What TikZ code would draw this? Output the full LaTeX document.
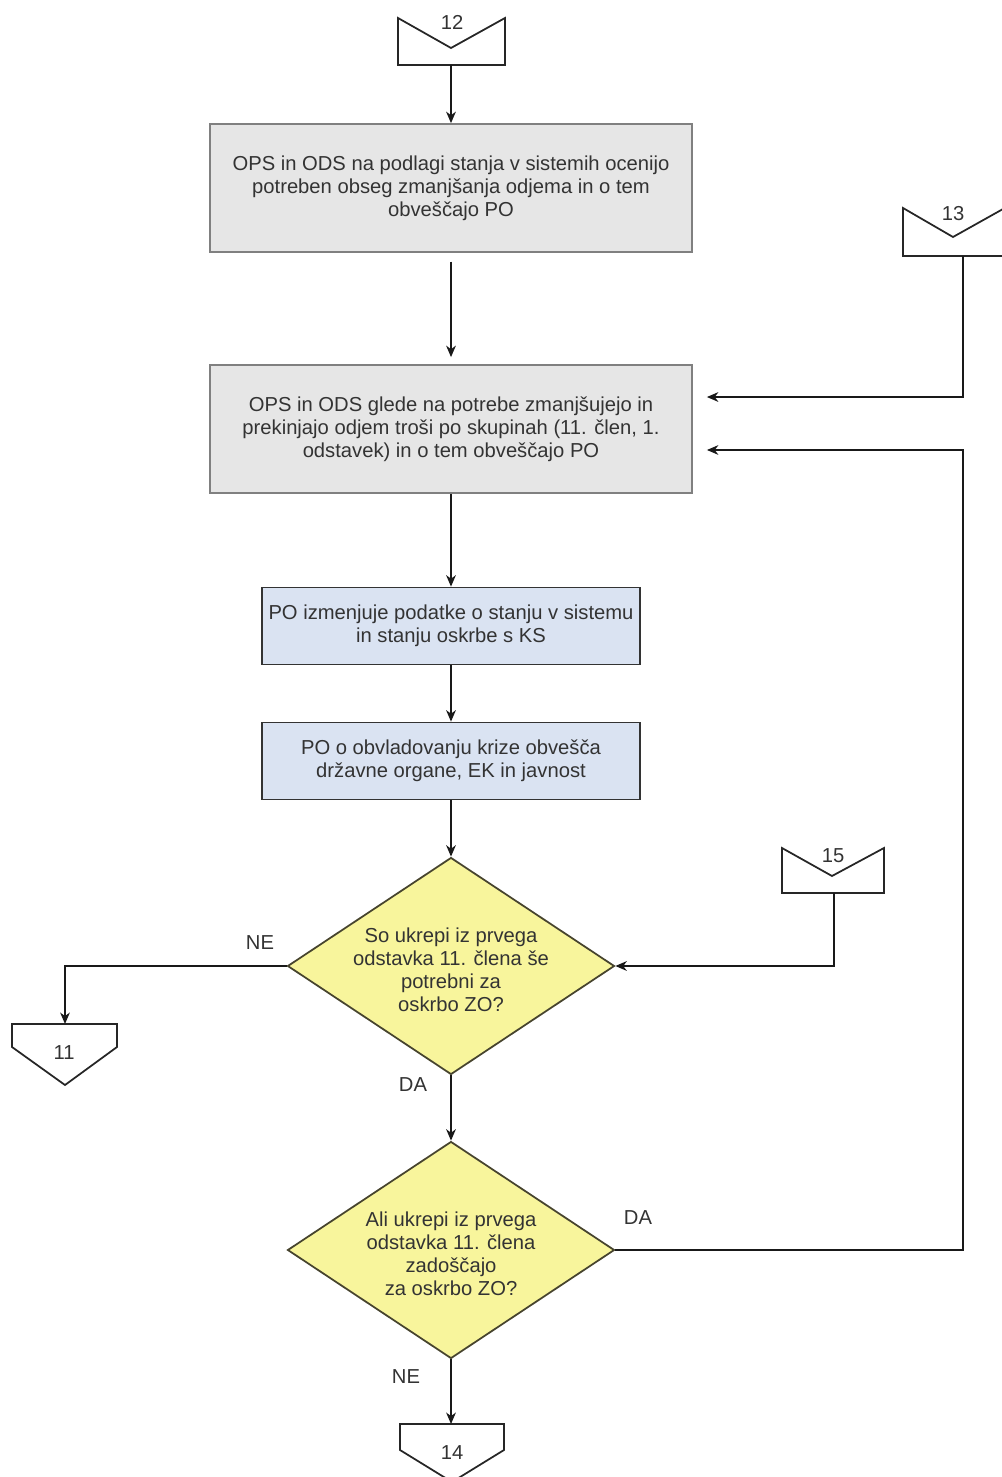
\documentclass[tikz,border=0pt]{standalone}
\usepackage{fontspec}
\setmainfont{Liberation Sans}
\usepackage{xcolor}
\usepackage{tikz}
\usetikzlibrary{arrows, arrows.meta, shapes.geometric, calc}

\definecolor{boxgray}{HTML}{E6E6E6}
\definecolor{boxblue}{HTML}{DAE3F2}
\definecolor{decyellow}{HTML}{F8F59C}

\tikzset{
  txt/.style={font=\fontsize{11.5}{13}\selectfont, text=black!80, align=center},
  graybox/.style={rectangle, line width=1pt, fill=boxgray, draw=gray, minimum width=9.64cm, minimum height=2.56cm, txt},
  bluebox/.style={rectangle, line width=1pt, fill=boxblue, draw=black!80, minimum width=7.56cm, minimum height=1.54cm, txt},
  decision/.style={diamond, line width=1pt, fill=decyellow, draw=black!65!olive, inner sep=0pt, minimum width=6.54cm, minimum height=4.34cm},
  conn/.style={line width=1pt, draw=black!85},
  arr/.style={line width=1pt, draw=black!90, -{Stealth[length=6.5pt, width=5.5pt, inset=2pt]}},
  lbl/.style={txt}
}

\begin{document}
\begin{tikzpicture}[x=0.02cm, y=-0.02cm]
  \useasboundingbox (0,0) rectangle (1001,1477);

  % off-page connectors
  \draw[conn] (398,18) -- (451,48) -- (505,18) -- (505,65) -- (398,65) -- cycle;
  \node[lbl] (n12) at (452,22) {12};
  \coordinate (c12) at (451,65);

  \draw[conn] (1003,209) -- (953,237) -- (903,208) -- (903,256) -- (1003,256);
  \node[lbl] (n13) at (953,214) {13};
  \coordinate (c13) at (963,256);

  \draw[conn] (782,848) -- (832,876) -- (884,848) -- (884,893) -- (782,893) -- cycle;
  \node[lbl] (n15) at (833,856) {15};
  \coordinate (c15) at (834,893);

  \draw[conn] (12,1024) -- (117,1024) -- (117,1047) -- (65,1085) -- (12,1047) -- cycle;
  \node[lbl] (n11) at (64,1053) {11};
  \coordinate (c11) at (65,1024);

  \draw[conn] (400,1424) -- (504,1424) -- (504,1450) -- (452,1482) -- (400,1450) -- cycle;
  \node[lbl] (n14) at (452,1453) {14};
  \coordinate (c14) at (451,1424);

  % process boxes
  \node[graybox] (box1) at (451,188) {OPS in ODS na podlagi stanja v sistemih ocenijo\\potreben obseg zmanjšanja odjema in o tem\\obveščajo PO};
  \node[graybox] (box2) at (451,429) {OPS in ODS glede na potrebe zmanjšujejo in\\prekinjajo odjem troši po skupinah (11. člen, 1.\\odstavek) in o tem obveščajo PO};
  \node[bluebox] (box3) at (451,626) {PO izmenjuje podatke o stanju v sistemu\\in stanju oskrbe s KS};
  \node[bluebox] (box4) at (451,761) {PO o obvladovanju krize obvešča\\državne organe, EK in javnost};

  % decisions
  \node[decision, label={[txt, yshift=-0.08cm]center:{So ukrepi iz prvega\\odstavka 11. člena še\\potrebni za\\oskrbo ZO?}}] (dec1) at (451,966) {};
  \node[decision, label={[txt, yshift=-0.08cm]center:{Ali ukrepi iz prvega\\odstavka 11. člena\\zadoščajo\\za oskrbo ZO?}}] (dec2) at (451,1250) {};

  % connectors
  \draw[arr] (c12) -- (box1.north);
  \draw[arr, shorten <=5pt, shorten >=4pt] (box1.south) -- (box2.north);
  \draw[arr, shorten >=8pt] (c13) |- ([yshift=0.64cm]box2.east);
  \draw[arr] (box2.south) -- (box3.north);
  \draw[arr] (box3.south) -- (box4.north);
  \draw[arr] (box4.south) -- (dec1.north);
  \draw[arr] (dec1.west) -| (c11);
  \draw[arr] (c15) |- (dec1.east);
  \draw[arr] (dec1.south) -- (dec2.north);
  \draw[arr, shorten >=8pt] (dec2.east) -- ++(348,0) |- ([yshift=-0.42cm]box2.east);
  \draw[arr] (dec2.south) -- (c14);

  % branch labels
  \node[lbl] (ne1) at (260,943) {NE};
  \node[lbl] (da1) at (413,1085) {DA};
  \node[lbl] (da2) at (638,1218) {DA};
  \node[lbl] (ne2) at (406,1377) {NE};
\end{tikzpicture}
\end{document}
